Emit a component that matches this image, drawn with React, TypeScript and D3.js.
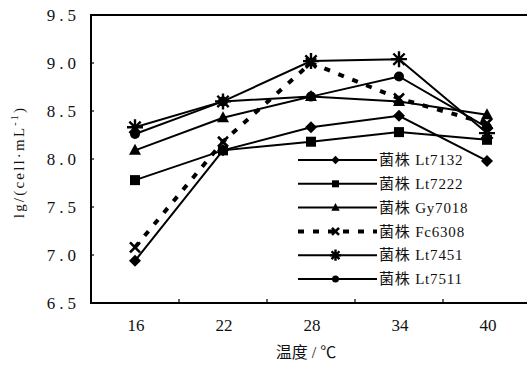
import React from "react";
import * as d3 from "d3";

// Temperature categories (°C)
const temperatures = ["16", "22", "28", "34", "40"];

// lg(cell·mL⁻¹) for each strain at each temperature
const lt7132 = [6.94, 8.09, 8.33, 8.45, 7.98];
const lt7222 = [7.78, 8.09, 8.18, 8.28, 8.2];
const gy7018 = [8.09, 8.43, 8.65, 8.6, 8.46];
const fc6308 = [7.08, 8.18, 9.0, 8.63, 8.37];
const lt7451 = [8.33, 8.6, 9.02, 9.04, 8.27];
const lt7511 = [8.26, 8.6, 8.65, 8.86, 8.33];

const yTicks = [6.5, 7.0, 7.5, 8.0, 8.5, 9.0, 9.5];

type Marker = "diamond" | "square" | "triangle" | "x" | "asterisk" | "circle";

const seriesNames = ["菌株 Lt7132", "菌株 Lt7222", "菌株 Gy7018", "菌株 Fc6308", "菌株 Lt7451", "菌株 Lt7511"];
const seriesValues = [lt7132, lt7222, gy7018, fc6308, lt7451, lt7511];
const seriesMarkers: Marker[] = ["diamond", "square", "triangle", "x", "asterisk", "circle"];
const seriesDashed = [false, false, false, true, false, false];

const W = 527;
const H = 371;
const left = 91;
const right = 531;
const top = 15;
const bottom = 303;

const SERIF = "Liberation Serif, Noto Sans CJK SC, serif";

function MarkerShape({ type, x, y, s = 1 }: { type: Marker; x: number; y: number; s?: number }) {
  const k = s;
  switch (type) {
    case "diamond":
      return <path d={`M${x},${y - 6 * k}L${x + 6 * k},${y}L${x},${y + 6 * k}L${x - 6 * k},${y}Z`} fill="#000" />;
    case "square":
      return <rect x={x - 5 * k} y={y - 5 * k} width={10 * k} height={10 * k} fill="#000" />;
    case "triangle":
      return <path d={`M${x},${y - 6.5 * k}L${x + 6 * k},${y + 4.5 * k}L${x - 6 * k},${y + 4.5 * k}Z`} fill="#000" />;
    case "circle":
      return <circle cx={x} cy={y} r={5 * k} fill="#000" />;
    case "x":
      return (
        <path
          d={`M${x - 5 * k},${y - 5 * k}L${x + 5 * k},${y + 5 * k}M${x + 5 * k},${y - 5 * k}L${x - 5 * k},${y + 5 * k}`}
          stroke="#000"
          strokeWidth={2.6}
        />
      );
    case "asterisk": {
      const r = 8 * k;
      const d = [0, 45, 90, 135]
        .map((a) => {
          const t = (a * Math.PI) / 180;
          return `M${x - r * Math.cos(t)},${y - r * Math.sin(t)}L${x + r * Math.cos(t)},${y + r * Math.sin(t)}`;
        })
        .join("");
      return <path d={d} stroke="#000" strokeWidth={2.4} />;
    }
  }
}

export default function App() {
  const x = d3.scaleBand<string>().domain(temperatures).range([left, right]).padding(0);
  const cx = (t: string) => (x(t) ?? 0) + x.bandwidth() / 2;
  const y = d3.scaleLinear().domain([6.5, 9.5]).range([bottom, top]);

  const line = d3
    .line<number>()
    .x((_, i) => cx(temperatures[i]))
    .y((v) => y(v));

  const boundaries = temperatures.slice(1).map((t) => x(t) ?? 0);

  const legendX0 = 298;
  const legendX1 = 377;
  const legendY0 = 160;
  const legendStep = 23.8;

  return (
    <svg width={W} height={H} style={{ position: "absolute", left: 0, top: 0, background: "#fff" }}>
      <rect width={W} height={H} fill="#fff" />

      {/* plot frame */}
      <rect x={left} y={top} width={right - left} height={bottom - top} fill="none" stroke="#000" strokeWidth={2} />

      {/* x ticks at category boundaries */}
      {boundaries.map((bx, i) => (
        <line key={i} x1={bx} x2={bx} y1={bottom} y2={bottom - 4} stroke="#000" strokeWidth={1.2} />
      ))}

      {/* y ticks and labels */}
      {yTicks.map((v) => (
        <g key={v}>
          <line x1={left} x2={left + 3} y1={y(v)} y2={y(v)} stroke="#000" strokeWidth={1.2} />
          <text
            x={80}
            y={y(v)}
            dy="0.35em"
            textAnchor="end"
            style={{ fontFamily: SERIF, fontSize: 17, letterSpacing: 4 }}
            fill="#111"
          >
            {d3.format(".1f")(v)}
          </text>
        </g>
      ))}

      {/* x labels */}
      {temperatures.map((t) => (
        <text key={t} x={cx(t) + 1} y={331} textAnchor="middle" style={{ fontFamily: SERIF, fontSize: 17 }} fill="#111">
          {t}
        </text>
      ))}

      {/* axis titles */}
      <text x={306} y={358} textAnchor="middle" style={{ fontFamily: SERIF, fontSize: 16 }} fill="#111">
        温度 / ℃
      </text>
      <text
        transform={`translate(24,162) rotate(-90)`}
        textAnchor="middle"
        style={{ fontFamily: SERIF, fontSize: 15, letterSpacing: 2.2 }}
        fill="#111"
      >
        lg/(cell·mL<tspan dy={-6} style={{ fontSize: 10 }}>-1</tspan>
        <tspan dy={6}>)</tspan>
      </text>

      {/* series lines */}
      {seriesValues.map((vals, i) => (
        <path
          key={`l${i}`}
          d={line(vals) ?? ""}
          fill="none"
          stroke="#000"
          strokeWidth={seriesDashed[i] ? 4 : 2}
          strokeDasharray={seriesDashed[i] ? "6 9" : undefined}
        />
      ))}

      {/* series markers */}
      {seriesValues.map((vals, i) =>
        vals.map((v, j) => (
          <MarkerShape key={`m${i}-${j}`} type={seriesMarkers[i]} x={cx(temperatures[j])} y={y(v)} />
        ))
      )}

      {/* legend */}
      {seriesNames.map((name, i) => {
        const ly = legendY0 + i * legendStep;
        const mx = (legendX0 + legendX1) / 2 - 2;
        return (
          <g key={name}>
            <line
              x1={legendX0}
              x2={legendX1}
              y1={ly}
              y2={ly}
              stroke="#000"
              strokeWidth={seriesDashed[i] ? 4 : 2}
              strokeDasharray={seriesDashed[i] ? "6 9" : undefined}
            />
            <MarkerShape type={seriesMarkers[i]} x={mx} y={ly} s={0.7} />
            <text
              x={legendX1 + 2}
              y={ly}
              dy="0.35em"
              style={{ fontFamily: SERIF, fontSize: 15, letterSpacing: 0.8 }}
              fill="#111"
            >
              {name}
            </text>
          </g>
        );
      })}
    </svg>
  );
}
